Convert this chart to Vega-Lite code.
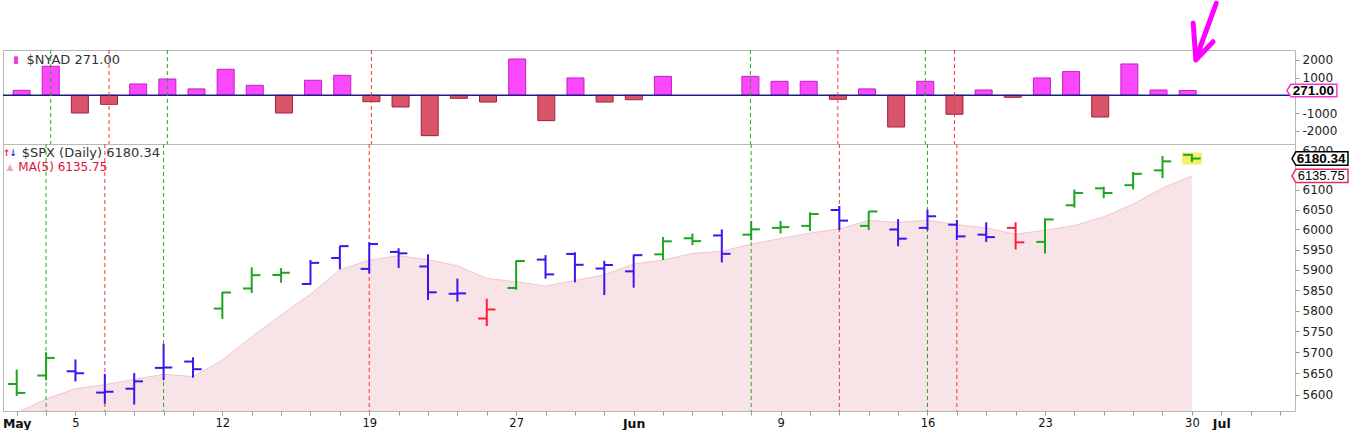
{
  "$schema": "https://vega.github.io/schema/vega-lite/v6.json",
  "padding": {"left": 1, "top": 0, "right": 5, "bottom": 0},
  "background": "white",
  "spacing": 0,
  "bounds": "flush",
  "config": {
    "view": {"stroke": "#b8b8b8"},
    "axis": {"grid": false, "domain": false, "labelFont": "DejaVu Sans", "labelFontSize": 12, "labelColor": "#222222", "tickColor": "#999999", "tickSize": 4, "labelPadding": 3, "labelOverlap": false, "labelFlush": false},
    "text": {"font": "DejaVu Sans"}
  },
  "resolve": {"scale": {"x": "independent", "y": "independent", "color": "independent", "stroke": "independent"}},
  "datasets": {
    "bars": [
      {"i": 0, "date": "2025-05-01", "open": 5625, "high": 5659, "low": 5597, "close": 5604.14, "ma5": 5557.6, "nyad": 280, "impulse": "bullish"},
      {"i": 1, "date": "2025-05-02", "open": 5645, "high": 5700, "low": 5634, "close": 5686.67, "ma5": 5589.9, "nyad": 1640, "impulse": "bullish"},
      {"i": 2, "date": "2025-05-05", "open": 5655, "high": 5683, "low": 5631, "close": 5650.38, "ma5": 5614.2, "nyad": -1000, "impulse": "neutral"},
      {"i": 3, "date": "2025-05-06", "open": 5605, "high": 5649, "low": 5579, "close": 5606.91, "ma5": 5623.4, "nyad": -510, "impulse": "neutral"},
      {"i": 4, "date": "2025-05-07", "open": 5614, "high": 5651, "low": 5577, "close": 5631.28, "ma5": 5635.9, "nyad": 640, "impulse": "neutral"},
      {"i": 5, "date": "2025-05-08", "open": 5663, "high": 5720, "low": 5634, "close": 5663.94, "ma5": 5647.8, "nyad": 920, "impulse": "neutral"},
      {"i": 6, "date": "2025-05-09", "open": 5678, "high": 5688, "low": 5640, "close": 5659.91, "ma5": 5642.5, "nyad": 360, "impulse": "neutral"},
      {"i": 7, "date": "2025-05-12", "open": 5805, "high": 5845, "low": 5780, "close": 5844.19, "ma5": 5681.2, "nyad": 1470, "impulse": "bullish"},
      {"i": 8, "date": "2025-05-13", "open": 5854, "high": 5906, "low": 5843, "close": 5886.55, "ma5": 5737.2, "nyad": 565, "impulse": "bullish"},
      {"i": 9, "date": "2025-05-14", "open": 5887, "high": 5904, "low": 5868, "close": 5892.58, "ma5": 5789.4, "nyad": -1000, "impulse": "bullish"},
      {"i": 10, "date": "2025-05-15", "open": 5865, "high": 5924, "low": 5863, "close": 5916.93, "ma5": 5840.0, "nyad": 850, "impulse": "neutral"},
      {"i": 11, "date": "2025-05-16", "open": 5929, "high": 5958, "low": 5901, "close": 5958.38, "ma5": 5899.7, "nyad": 1130, "impulse": "neutral"},
      {"i": 12, "date": "2025-05-19", "open": 5902, "high": 5968, "low": 5891, "close": 5963.6, "ma5": 5923.6, "nyad": -360, "impulse": "neutral"},
      {"i": 13, "date": "2025-05-20", "open": 5944, "high": 5953, "low": 5904, "close": 5940.46, "ma5": 5934.4, "nyad": -660, "impulse": "neutral"},
      {"i": 14, "date": "2025-05-21", "open": 5908, "high": 5938, "low": 5826, "close": 5844.61, "ma5": 5924.8, "nyad": -2280, "impulse": "neutral"},
      {"i": 15, "date": "2025-05-22", "open": 5841, "high": 5878, "low": 5822, "close": 5842.01, "ma5": 5909.8, "nyad": -170, "impulse": "neutral"},
      {"i": 16, "date": "2025-05-23", "open": 5781, "high": 5829, "low": 5763, "close": 5802.82, "ma5": 5878.7, "nyad": -380, "impulse": "bearish"},
      {"i": 17, "date": "2025-05-27", "open": 5855, "high": 5922, "low": 5851, "close": 5921.54, "ma5": 5870.3, "nyad": 2050, "impulse": "bullish"},
      {"i": 18, "date": "2025-05-28", "open": 5925, "high": 5936, "low": 5878, "close": 5888.55, "ma5": 5859.9, "nyad": -1430, "impulse": "neutral"},
      {"i": 19, "date": "2025-05-29", "open": 5939, "high": 5943, "low": 5869, "close": 5912.17, "ma5": 5873.4, "nyad": 980, "impulse": "neutral"},
      {"i": 20, "date": "2025-05-30", "open": 5903, "high": 5922, "low": 5838, "close": 5911.69, "ma5": 5887.4, "nyad": -380, "impulse": "neutral"},
      {"i": 21, "date": "2025-06-02", "open": 5896, "high": 5937, "low": 5856, "close": 5935.94, "ma5": 5914.0, "nyad": -250, "impulse": "neutral"},
      {"i": 22, "date": "2025-06-03", "open": 5938, "high": 5981, "low": 5924, "close": 5970.37, "ma5": 5923.7, "nyad": 1070, "impulse": "bullish"},
      {"i": 23, "date": "2025-06-04", "open": 5978, "high": 5990, "low": 5961, "close": 5970.81, "ma5": 5940.2, "nyad": null, "impulse": "bullish"},
      {"i": 24, "date": "2025-06-05", "open": 5985, "high": 6000, "low": 5918, "close": 5939.3, "ma5": 5945.6, "nyad": null, "impulse": "neutral"},
      {"i": 25, "date": "2025-06-06", "open": 5987, "high": 6021, "low": 5973, "close": 6000.36, "ma5": 5963.4, "nyad": 1070, "impulse": "bullish"},
      {"i": 26, "date": "2025-06-09", "open": 6004, "high": 6021, "low": 5990, "close": 6005.88, "ma5": 5977.3, "nyad": 790, "impulse": "bullish"},
      {"i": 27, "date": "2025-06-10", "open": 6009, "high": 6043, "low": 5996, "close": 6038.81, "ma5": 5991.0, "nyad": 790, "impulse": "bullish"},
      {"i": 28, "date": "2025-06-11", "open": 6049, "high": 6059, "low": 5999, "close": 6022.24, "ma5": 6001.3, "nyad": -225, "impulse": "neutral"},
      {"i": 29, "date": "2025-06-12", "open": 6009, "high": 6045, "low": 5999, "close": 6045.26, "ma5": 6022.5, "nyad": 360, "impulse": "bullish"},
      {"i": 30, "date": "2025-06-13", "open": 6000, "high": 6026, "low": 5958, "close": 5976.97, "ma5": 6017.8, "nyad": -1790, "impulse": "neutral"},
      {"i": 31, "date": "2025-06-16", "open": 6004, "high": 6050, "low": 5998, "close": 6033.11, "ma5": 6023.3, "nyad": 790, "impulse": "neutral"},
      {"i": 32, "date": "2025-06-17", "open": 6012, "high": 6024, "low": 5974, "close": 5982.72, "ma5": 6012.1, "nyad": -1070, "impulse": "neutral"},
      {"i": 33, "date": "2025-06-18", "open": 5987, "high": 6018, "low": 5969, "close": 5980.87, "ma5": 6003.8, "nyad": 300, "impulse": "neutral"},
      {"i": 34, "date": "2025-06-20", "open": 6004, "high": 6018, "low": 5950, "close": 5967.84, "ma5": 5988.3, "nyad": -113, "impulse": "bearish"},
      {"i": 35, "date": "2025-06-23", "open": 5969, "high": 6028, "low": 5940, "close": 6025.17, "ma5": 5997.9, "nyad": 980, "impulse": "bullish"},
      {"i": 36, "date": "2025-06-24", "open": 6061, "high": 6101, "low": 6055, "close": 6092.18, "ma5": 6009.8, "nyad": 1340, "impulse": "bullish"},
      {"i": 37, "date": "2025-06-25", "open": 6104, "high": 6108, "low": 6079, "close": 6092.16, "ma5": 6031.6, "nyad": -1225, "impulse": "bullish"},
      {"i": 38, "date": "2025-06-26", "open": 6112, "high": 6146, "low": 6101, "close": 6141.02, "ma5": 6063.7, "nyad": 1770, "impulse": "bullish"},
      {"i": 39, "date": "2025-06-27", "open": 6150, "high": 6187, "low": 6130, "close": 6173.07, "ma5": 6104.7, "nyad": 300, "impulse": "bullish"},
      {"i": 40, "date": "2025-06-30", "open": 6190, "high": 6192, "low": 6171, "close": 6180.34, "ma5": 6135.75, "nyad": 271, "impulse": "bullish"}
    ],
    "signals": [
      {"i": 1, "signal": "buy"},
      {"i": 3, "signal": "sell"},
      {"i": 5, "signal": "buy"},
      {"i": 12, "signal": "sell"},
      {"i": 25, "signal": "buy"},
      {"i": 28, "signal": "sell"},
      {"i": 31, "signal": "buy"},
      {"i": 32, "signal": "sell"}
    ],
    "arrow": [
      {"part": "shaft", "k": 0, "i": 40.98, "v": 5200},
      {"part": "shaft", "k": 1, "i": 40.35, "v": 2373},
      {"part": "head", "k": 0, "i": 40.19, "v": 4067},
      {"part": "head", "k": 1, "i": 40.28, "v": 1994},
      {"part": "head", "k": 2, "i": 40.87, "v": 3028}
    ],
    "one": [{}]
  },
  "vconcat": [
    {
      "width": 1292,
      "height": 94,
      "layer": [
        {
          "data": {"name": "bars"},
          "mark": {"type": "bar", "width": 17, "strokeWidth": 1},
          "encoding": {
            "x": {"field": "i", "type": "quantitative", "scale": {"domain": [-0.466, 43.51], "nice": false, "zero": false}, "axis": null},
            "y": {"field": "nyad", "type": "quantitative", "scale": {"domain": [-2751, 2559], "nice": false, "zero": false},
                  "axis": {"orient": "right", "title": null, "values": [-2000, -1000, 1000, 2000], "labelExpr": "'' + datum.value", "labelOverlap": false}},
            "y2": {"datum": 0},
            "fill": {"condition": {"test": "datum.nyad >= 0", "value": "#fb48fb"}, "value": "#d7546b"},
            "stroke": {"condition": {"test": "datum.nyad >= 0", "value": "#c21fc2"}, "value": "#a61e38"}
          }
        },
        {
          "data": {"name": "one"},
          "mark": {"type": "rule", "color": "#1c1c84", "strokeWidth": 1.5},
          "encoding": {"y": {"datum": 0, "axis": {"orient": "right", "title": null, "values": [-2000, -1000, 1000, 2000], "labelExpr": "'' + datum.value", "labelOverlap": false}}}
        },
        {
          "data": {"name": "signals"},
          "mark": {"type": "rule", "strokeDash": [4, 3], "strokeWidth": 1},
          "encoding": {
            "x": {"field": "i", "type": "quantitative", "axis": null},
            "stroke": {"field": "signal", "type": "nominal", "scale": {"domain": ["buy", "sell"], "range": ["#22a822", "#ff3030"]}, "legend": null}
          }
        },
        {
          "data": {"name": "one"},
          "mark": {"type": "text", "text": "▮", "fontSize": 10, "color": "#f030f0", "align": "center", "baseline": "middle"},
          "encoding": {"x": {"datum": -0.194, "axis": null}, "y": {"datum": 1994, "axis": {"orient": "right", "title": null, "values": [-2000, -1000, 1000, 2000], "labelExpr": "'' + datum.value", "labelOverlap": false}}}
        },
        {
          "data": {"name": "one"},
          "mark": {"type": "text", "text": "$NYAD 271.00", "fontSize": 13, "color": "#333333", "align": "left", "baseline": "middle"},
          "encoding": {"x": {"datum": 0.17, "axis": null}, "y": {"datum": 1994, "axis": {"orient": "right", "title": null, "values": [-2000, -1000, 1000, 2000], "labelExpr": "'' + datum.value", "labelOverlap": false}}}
        },
        {
          "data": {"name": "one"},
          "mark": {"type": "point", "shape": "M-1,0L-0.84,-0.25L1,-0.25L1,0.25L-0.84,0.25Z", "size": 2500, "filled": true, "fill": "white", "stroke": "#ff33cc", "strokeWidth": 1.5, "opacity": 1},
          "encoding": {"x": {"datum": 44.26, "axis": null}, "y": {"datum": 271, "axis": {"orient": "right", "title": null, "values": [-2000, -1000, 1000, 2000], "labelExpr": "'' + datum.value", "labelOverlap": false}}}
        },
        {
          "data": {"name": "one"},
          "mark": {"type": "text", "text": "271.00", "fontSize": 13.5, "fontWeight": "bold", "font": "Liberation Sans", "color": "#000000", "align": "center", "baseline": "middle"},
          "encoding": {"x": {"datum": 44.31, "axis": null}, "y": {"datum": 271, "axis": {"orient": "right", "title": null, "values": [-2000, -1000, 1000, 2000], "labelExpr": "'' + datum.value", "labelOverlap": false}}}
        },
        {
          "data": {"name": "arrow"},
          "mark": {"type": "line", "color": "#ff00ff", "strokeWidth": 5, "strokeCap": "round", "strokeJoin": "round", "clip": false},
          "encoding": {
            "x": {"field": "i", "type": "quantitative", "axis": null},
            "y": {"field": "v", "type": "quantitative", "axis": {"orient": "right", "title": null, "values": [-2000, -1000, 1000, 2000], "labelExpr": "'' + datum.value", "labelOverlap": false}},
            "detail": {"field": "part"},
            "order": {"field": "k", "type": "quantitative"}
          }
        }
      ]
    },
    {
      "width": 1292,
      "height": 267,
      "layer": [
        {
          "data": {"name": "bars"},
          "mark": {"type": "area", "color": "#f8e4e6", "opacity": 1, "clip": true, "line": {"color": "#f0c6cc", "strokeWidth": 1}},
          "encoding": {
            "x": {"field": "i", "type": "quantitative", "scale": {"domain": [-0.466, 43.51], "nice": false, "zero": false},
                  "axis": {"orient": "bottom", "title": null, "values": [0, 1, 2, 3, 4, 5, 6, 7, 8, 9, 10, 11, 12, 13, 14, 15, 16, 17, 18, 19, 20, 21, 22, 23, 24, 25, 26, 27, 28, 29, 30, 31, 32, 33, 34, 35, 36, 37, 38, 39, 40, 41, 42, 43], "labelExpr": "datum.value == 0 ? 'May' : datum.value == 2 ? '5' : datum.value == 7 ? '12' : datum.value == 12 ? '19' : datum.value == 17 ? '27' : datum.value == 21 ? 'Jun' : datum.value == 26 ? '9' : datum.value == 31 ? '16' : datum.value == 35 ? '23' : datum.value == 40 ? '30' : datum.value == 41 ? 'Jul' : ''", "labelOverlap": false, "labelFlush": false, "labelPadding": 2, "labelColor": "#111111", "labelFontSize": {"condition": {"test": "datum.value == 0 || datum.value == 21 || datum.value == 41", "value": 12.5}, "value": 11.5}, "labelFontWeight": {"condition": {"test": "datum.value == 0 || datum.value == 21 || datum.value == 41", "value": "bold"}, "value": "normal"}}},
            "y": {"field": "ma5", "type": "quantitative", "scale": {"type": "log", "domain": [5562, 6218], "nice": false},
                  "axis": {"orient": "right", "title": null, "values": [5600, 5650, 5700, 5750, 5800, 5850, 5900, 5950, 6000, 6050, 6100, 6200], "labelExpr": "'' + datum.value", "labelOverlap": false}},
            "y2": {"datum": 5562}
          }
        },
        {
          "data": {"name": "signals"},
          "mark": {"type": "rule", "strokeDash": [4, 3], "strokeWidth": 1},
          "encoding": {
            "x": {"field": "i", "type": "quantitative", "axis": {"orient": "bottom", "title": null, "values": [0, 1, 2, 3, 4, 5, 6, 7, 8, 9, 10, 11, 12, 13, 14, 15, 16, 17, 18, 19, 20, 21, 22, 23, 24, 25, 26, 27, 28, 29, 30, 31, 32, 33, 34, 35, 36, 37, 38, 39, 40, 41, 42, 43], "labelExpr": "datum.value == 0 ? 'May' : datum.value == 2 ? '5' : datum.value == 7 ? '12' : datum.value == 12 ? '19' : datum.value == 17 ? '27' : datum.value == 21 ? 'Jun' : datum.value == 26 ? '9' : datum.value == 31 ? '16' : datum.value == 35 ? '23' : datum.value == 40 ? '30' : datum.value == 41 ? 'Jul' : ''", "labelOverlap": false, "labelFlush": false, "labelPadding": 2, "labelColor": "#111111", "labelFontSize": {"condition": {"test": "datum.value == 0 || datum.value == 21 || datum.value == 41", "value": 12.5}, "value": 11.5}, "labelFontWeight": {"condition": {"test": "datum.value == 0 || datum.value == 21 || datum.value == 41", "value": "bold"}, "value": "normal"}}},
            "stroke": {"field": "signal", "type": "nominal", "scale": {"domain": ["buy", "sell"], "range": ["#22a822", "#ff3030"]}, "legend": null}
          }
        },
        {
          "data": {"name": "bars"},
          "encoding": {
            "x": {"field": "i", "type": "quantitative", "axis": {"orient": "bottom", "title": null, "values": [0, 1, 2, 3, 4, 5, 6, 7, 8, 9, 10, 11, 12, 13, 14, 15, 16, 17, 18, 19, 20, 21, 22, 23, 24, 25, 26, 27, 28, 29, 30, 31, 32, 33, 34, 35, 36, 37, 38, 39, 40, 41, 42, 43], "labelExpr": "datum.value == 0 ? 'May' : datum.value == 2 ? '5' : datum.value == 7 ? '12' : datum.value == 12 ? '19' : datum.value == 17 ? '27' : datum.value == 21 ? 'Jun' : datum.value == 26 ? '9' : datum.value == 31 ? '16' : datum.value == 35 ? '23' : datum.value == 40 ? '30' : datum.value == 41 ? 'Jul' : ''", "labelOverlap": false, "labelFlush": false, "labelPadding": 2, "labelColor": "#111111", "labelFontSize": {"condition": {"test": "datum.value == 0 || datum.value == 21 || datum.value == 41", "value": 12.5}, "value": 11.5}, "labelFontWeight": {"condition": {"test": "datum.value == 0 || datum.value == 21 || datum.value == 41", "value": "bold"}, "value": "normal"}}}
          },
          "layer": [
            {
              "transform": [{"filter": "datum.i == 40"}],
              "mark": {"type": "point", "shape": "M-1,-0.6L1,-0.6L1,0.6L-1,0.6Z", "size": 400, "filled": true, "color": "#f5f06a", "opacity": 1},
              "encoding": {"y": {"field": "close", "type": "quantitative", "axis": {"orient": "right", "title": null, "values": [5600, 5650, 5700, 5750, 5800, 5850, 5900, 5950, 6000, 6050, 6100, 6200], "labelExpr": "'' + datum.value", "labelOverlap": false}}}
            },
            {
              "mark": {"type": "rule", "strokeWidth": 2, "opacity": 1},
              "encoding": {
                "y": {"field": "low", "type": "quantitative", "axis": {"orient": "right", "title": null, "values": [5600, 5650, 5700, 5750, 5800, 5850, 5900, 5950, 6000, 6050, 6100, 6200], "labelExpr": "'' + datum.value", "labelOverlap": false}},
                "y2": {"field": "high"},
                "color": {"field": "impulse", "type": "nominal", "scale": {"domain": ["bullish", "bearish", "neutral"], "range": ["#1ea51e", "#ff1e3c", "#3c14f0"]}, "legend": null}
              }
            },
            {
              "mark": {"type": "tick", "orient": "horizontal", "size": 9, "thickness": 2, "xOffset": -4.2, "opacity": 1},
              "encoding": {
                "y": {"field": "open", "type": "quantitative", "axis": {"orient": "right", "title": null, "values": [5600, 5650, 5700, 5750, 5800, 5850, 5900, 5950, 6000, 6050, 6100, 6200], "labelExpr": "'' + datum.value", "labelOverlap": false}},
                "color": {"field": "impulse", "type": "nominal", "legend": null}
              }
            },
            {
              "mark": {"type": "tick", "orient": "horizontal", "size": 9, "thickness": 2, "xOffset": 4.2, "opacity": 1},
              "encoding": {
                "y": {"field": "close", "type": "quantitative", "axis": {"orient": "right", "title": null, "values": [5600, 5650, 5700, 5750, 5800, 5850, 5900, 5950, 6000, 6050, 6100, 6200], "labelExpr": "'' + datum.value", "labelOverlap": false}},
                "color": {"field": "impulse", "type": "nominal", "legend": null}
              }
            }
          ]
        },
        {
          "data": {"name": "one"},
          "encoding": {
            "x": {"datum": 0, "axis": {"orient": "bottom", "title": null, "values": [0, 1, 2, 3, 4, 5, 6, 7, 8, 9, 10, 11, 12, 13, 14, 15, 16, 17, 18, 19, 20, 21, 22, 23, 24, 25, 26, 27, 28, 29, 30, 31, 32, 33, 34, 35, 36, 37, 38, 39, 40, 41, 42, 43], "labelExpr": "datum.value == 0 ? 'May' : datum.value == 2 ? '5' : datum.value == 7 ? '12' : datum.value == 12 ? '19' : datum.value == 17 ? '27' : datum.value == 21 ? 'Jun' : datum.value == 26 ? '9' : datum.value == 31 ? '16' : datum.value == 35 ? '23' : datum.value == 40 ? '30' : datum.value == 41 ? 'Jul' : ''", "labelOverlap": false, "labelFlush": false, "labelPadding": 2, "labelColor": "#111111", "labelFontSize": {"condition": {"test": "datum.value == 0 || datum.value == 21 || datum.value == 41", "value": 12.5}, "value": 11.5}, "labelFontWeight": {"condition": {"test": "datum.value == 0 || datum.value == 21 || datum.value == 41", "value": "bold"}, "value": "normal"}}},
            "y": {"datum": 6000, "axis": {"orient": "right", "title": null, "values": [5600, 5650, 5700, 5750, 5800, 5850, 5900, 5950, 6000, 6050, 6100, 6200], "labelExpr": "'' + datum.value", "labelOverlap": false}}
          },
          "layer": [
            {
              "mark": {"type": "text", "text": "↑", "fontSize": 9, "fontWeight": "bold", "color": "#ff2020", "align": "center", "baseline": "middle"},
              "encoding": {"x": {"datum": -0.34}, "y": {"datum": 6193.9}}
            },
            {
              "mark": {"type": "text", "text": "↓", "fontSize": 9, "fontWeight": "bold", "color": "#3c14f0", "align": "center", "baseline": "middle"},
              "encoding": {"x": {"datum": -0.12}, "y": {"datum": 6193.9}}
            },
            {
              "mark": {"type": "text", "text": "$SPX (Daily) 6180.34", "fontSize": 13, "color": "#333333", "align": "left", "baseline": "middle"},
              "encoding": {"x": {"datum": 0.17}, "y": {"datum": 6193.9}}
            },
            {
              "mark": {"type": "text", "text": "▲", "fontSize": 9, "color": "#f0a8b4", "align": "center", "baseline": "middle"},
              "encoding": {"x": {"datum": -0.228}, "y": {"datum": 6159.3}}
            },
            {
              "mark": {"type": "text", "text": "MA(5) 6135.75", "fontSize": 12, "color": "#e0103a", "align": "left", "baseline": "middle"},
              "encoding": {"x": {"datum": 0.055}, "y": {"datum": 6159.3}}
            },
            {
              "mark": {"type": "point", "shape": "M-1,0L-0.86,-0.24L1,-0.24L1,0.24L-0.86,0.24Z", "size": 3136, "filled": true, "fill": "white", "stroke": "#000000", "strokeWidth": 1.5, "opacity": 1},
              "encoding": {"x": {"datum": 44.36}, "y": {"datum": 6180.34}}
            },
            {
              "mark": {"type": "text", "text": "6180.34", "fontSize": 13.5, "fontWeight": "bold", "font": "Liberation Sans", "color": "#000000", "align": "center", "baseline": "middle"},
              "encoding": {"x": {"datum": 44.4}, "y": {"datum": 6180.34}}
            },
            {
              "mark": {"type": "point", "shape": "M-1,0L-0.86,-0.24L1,-0.24L1,0.24L-0.86,0.24Z", "size": 3136, "filled": true, "fill": "white", "stroke": "#e0305a", "strokeWidth": 1.5, "opacity": 1},
              "encoding": {"x": {"datum": 44.36}, "y": {"datum": 6135.75}}
            },
            {
              "mark": {"type": "text", "text": "6135.75", "fontSize": 13, "font": "Liberation Sans", "color": "#000000", "align": "center", "baseline": "middle"},
              "encoding": {"x": {"datum": 44.4}, "y": {"datum": 6135.75}}
            }
          ]
        }
      ]
    }
  ]
}
